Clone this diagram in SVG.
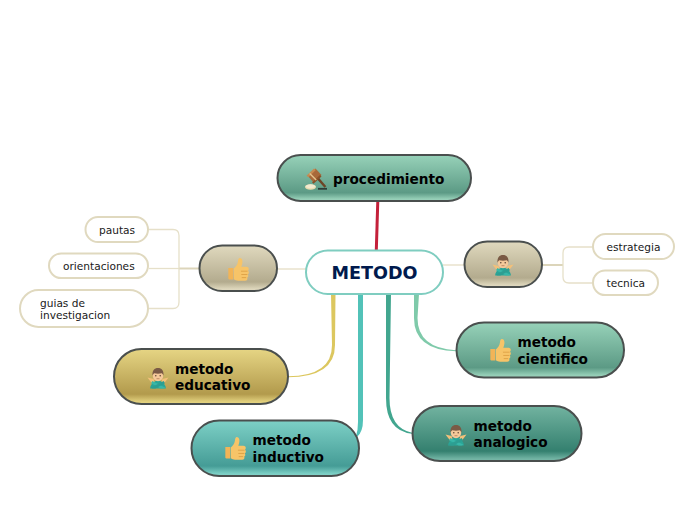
<svg xmlns="http://www.w3.org/2000/svg" width="696" height="520" viewBox="0 0 696 520">
<defs>
<linearGradient id="gGreen" x1="0" y1="0" x2="0" y2="1"><stop offset="0" stop-color="#97d2b9"/><stop offset="0.82" stop-color="#5c9a85"/><stop offset="0.95" stop-color="#92ccb4"/><stop offset="1" stop-color="#a0d4bf"/></linearGradient>
<linearGradient id="gDark" x1="0" y1="0" x2="0" y2="1"><stop offset="0" stop-color="#72b3a0"/><stop offset="0.82" stop-color="#34806f"/><stop offset="0.95" stop-color="#6db0a0"/><stop offset="1" stop-color="#7dbcab"/></linearGradient>
<linearGradient id="gTeal" x1="0" y1="0" x2="0" y2="1"><stop offset="0" stop-color="#7dd0c6"/><stop offset="0.82" stop-color="#459c96"/><stop offset="0.95" stop-color="#78ccc2"/><stop offset="1" stop-color="#86d4ca"/></linearGradient>
<linearGradient id="gGold" x1="0" y1="0" x2="0" y2="1"><stop offset="0" stop-color="#e6d584"/><stop offset="0.82" stop-color="#b29a4c"/><stop offset="0.95" stop-color="#dfcd7a"/><stop offset="1" stop-color="#e6d685"/></linearGradient>
<linearGradient id="gSand" x1="0" y1="0" x2="0" y2="1"><stop offset="0" stop-color="#e0d9be"/><stop offset="0.8" stop-color="#b3ab8e"/><stop offset="0.95" stop-color="#dcd5ba"/><stop offset="1" stop-color="#e2dbc2"/></linearGradient>
<symbol id="thumb" viewBox="3 2 18.500 20" overflow="visible">
<path d="M3 11h4.500v10.500H3.800C3.300 21.500 3 21 3 20.500z" fill="#f2b457"/>
<path d="M8 11.500c2-1.500 3.300-3.500 3.700-6 .2-1.500.4-3.500 1.900-3.500 1.800 0 2.400 2 2.200 4-.1 1.300-.6 2.600-1 4h4.700c1.400 0 2.100.9 2.100 2 0 .7-.3 1.200-.7 1.600.5.400.8 1 .8 1.600 0 .8-.4 1.400-1 1.700.3.400.5.800.5 1.300 0 .8-.4 1.400-1.100 1.700.2.300.3.600.3 1 0 1.100-.9 1.700-2 1.700h-6.500c-1.600 0-2.900-.5-3.900-1.200z" fill="#f7c468"/>
<path d="M14.500 14h6M14.800 17h5.500M15.200 19.800h4" stroke="#d99b3f" stroke-width=".7" fill="none"/>
</symbol>
<symbol id="nope" viewBox="0 0 24 24" overflow="visible">
<path d="M3 24c0-3 2-6 5-8l4-1.500 4 1.500c3 2 5 5 5 8z" fill="#2aa597"/>
<path d="M0 11.500l7 1.500 1 3.500-3 1.500z" fill="#f3c07a"/>
<path d="M24 11.500l-7 1.500-1 3.500 3 1.500z" fill="#f3c07a"/>
<path d="M5.500 15.500l15 7.500-2 1H15L4 18z" fill="#38b7a8"/>
<path d="M18.500 15.500l-15 7.500 2 1H9l11-6z" fill="#2d9e92"/>
<ellipse cx="12" cy="9" rx="6" ry="6.800" fill="#f5c99a"/>
<path d="M5.800 9.500C5 3.500 8 .5 12 .5s7 3 6.200 9c-.5-1.300-1-2.300-1.800-2.800-2.900.6-5.900.6-8.800 0-.8.500-1.300 1.500-1.800 2.800z" fill="#7a5a45"/>
<circle cx="9.500" cy="9.500" r=".8" fill="#4a3428"/><circle cx="14.500" cy="9.500" r=".8" fill="#4a3428"/>
<path d="M10.300 12.800h3.400" stroke="#a9714f" stroke-width=".8"/>
</symbol>
<symbol id="gavel" viewBox="0 0 24 24" overflow="visible">
<ellipse cx="6.500" cy="20" rx="5.500" ry="2.700" fill="#e8dcb0"/>
<path d="M1.500 19.500c1-1.500 3-2.200 5-2.200s4 .7 5 2.200c-1 1.200-3 1.800-5 1.800s-4-.6-5-1.800z" fill="#f3ead0"/>
<path d="M11.500 10.500l1.800-1.800 9 10.500-1.800 1.600z" fill="#6d4526"/>
<path d="M14 21.800h9" stroke="#2e3d38" stroke-width="1.800"/>
<path d="M3.500 8.500 11.500 1.500l6 6.500-8 7.500z" fill="#a8693a"/>
<path d="M2.500 8.700 10 1.500l1.800 1.500L4.500 10.300z" fill="#c58a52"/>
<path d="M8 15.500l8-7.500 1.500 1.500-8 7.300z" fill="#8a5128"/>
<path d="M5.700 6.600l6.500 6.400" stroke="#e3c48d" stroke-width="1.400"/>
</symbol>
</defs>
<style>
.n{stroke:#4a4f4e;stroke-width:2}
.leaf{fill:#fff;stroke:#e0d9bf;stroke-width:2}
.b{font-family:"DejaVu Sans",Verdana,sans-serif;font-weight:700;font-size:13.650px;fill:#000}
.s{font-family:"DejaVu Sans",Verdana,sans-serif;font-size:10.600px;fill:#1a1a1a}
.c{fill:none}
.l{fill:none;stroke:#e6e0c9;stroke-width:1.300}
</style>
<g id="connectors">
<path d="M376.300 201H379.300L377.800 250H374.800Z" fill="#c4203a"/>
<path d="M331 294L332 345Q332 376 288 376.300V377.300Q335 377 335 345L335.500 294Z" fill="#dcc75f"/>
<path d="M358 294V422Q358 430 356 436L357 437Q363 432 363 420V294Z" fill="#52c2b8"/>
<path d="M386 294V398Q386 431 412 433.700V432.700Q389.500 428 389.500 398L391 294Z" fill="#42a68f"/>
<path d="M414 294V318Q414 350 456 351.300V350.300Q417.500 348 417.500 318L419 294Z" fill="#7fcaaa"/>
<path class="c" d="M277 269H306" stroke="#e8e2cd" stroke-width="1.500"/>
<path class="c" d="M443 265H464" stroke="#e8e2cd" stroke-width="1.500"/>
<path class="c" d="M199 268.500H179" stroke="#dcd5ba" stroke-width="2"/>
<path class="l" d="M179 268.500H149"/>
<path class="l" d="M149 229.500H173Q179 229.500 179 235.500V302Q179 308.500 173 308.500H149"/>
<path class="c" d="M542 265H563" stroke="#dcd5ba" stroke-width="2"/>
<path class="l" d="M593 247H569Q563 247 563 253V277Q563 283 569 283H593"/>
</g>
<g id="node-procedimiento"><rect class="n" x="277.500" y="155" width="193.500" height="46" rx="23" fill="url(#gGreen)"/><use href="#gavel" x="304" y="167" width="24" height="24"/><text class="b" x="333" y="184">procedimiento</text></g>
<g id="node-metodo"><rect x="306" y="250.500" width="137" height="43.500" rx="21.700" fill="#fff" stroke="#7fcdc0" stroke-width="2"/><text x="374.500" y="279" text-anchor="middle" font-family="'DejaVu Sans',Verdana,sans-serif" font-weight="700" font-size="17.600px" fill="#001a4d">METODO</text></g>
<g id="node-thumb-left"><rect class="n" x="199.500" y="245.500" width="77.500" height="45.500" rx="22.700" fill="url(#gSand)"/><use href="#thumb" x="228" y="258" width="21" height="22"/></g>
<g id="node-nope-right"><rect class="n" x="464.500" y="241.500" width="77.500" height="45.500" rx="22.700" fill="url(#gSand)"/><use href="#nope" x="492.500" y="254" width="21" height="22"/></g>
<g id="node-pautas"><rect class="leaf" x="85.500" y="217" width="62.500" height="25" rx="12.500"/><text class="s" x="99" y="234">pautas</text></g>
<g id="node-orientaciones"><rect class="leaf" x="49" y="253.500" width="99" height="24.500" rx="12.200"/><text class="s" x="63" y="270">orientaciones</text></g>
<g id="node-guias"><rect class="leaf" x="20" y="290" width="128" height="37" rx="18.500"/><text class="s" x="40" y="307">guias de</text><text class="s" x="40" y="319">investigacion</text></g>
<g id="node-estrategia"><rect class="leaf" x="593" y="234" width="81" height="25" rx="12.500"/><text class="s" x="606.500" y="251">estrategia</text></g>
<g id="node-tecnica"><rect class="leaf" x="593" y="270.500" width="65" height="24.500" rx="12.200"/><text class="s" x="606.500" y="287">tecnica</text></g>
<g id="node-cientifico"><rect class="n" x="456.500" y="322.500" width="167.500" height="55" rx="27.500" fill="url(#gGreen)"/><use href="#thumb" x="490" y="339" width="21" height="22"/><text class="b" x="517.500" y="347">metodo</text><text class="b" x="517.500" y="364">cientifico</text></g>
<g id="node-educativo"><rect class="n" x="114" y="349" width="174" height="55" rx="27.500" fill="url(#gGold)"/><use href="#nope" x="147.500" y="367" width="21" height="22"/><text class="b" x="175" y="374">metodo</text><text class="b" x="175" y="390">educativo</text></g>
<g id="node-inductivo"><rect class="n" x="191.500" y="420.500" width="167.500" height="55.500" rx="27.700" fill="url(#gTeal)"/><use href="#thumb" x="225" y="437" width="21" height="22"/><text class="b" x="252.500" y="445">metodo</text><text class="b" x="252.500" y="462">inductivo</text></g>
<g id="node-analogico"><rect class="n" x="412.500" y="406" width="169" height="55" rx="27.500" fill="url(#gDark)"/><use href="#nope" x="445.500" y="424" width="21" height="22"/><text class="b" x="473.500" y="431">metodo</text><text class="b" x="473.500" y="447">analogico</text></g>
</svg>
